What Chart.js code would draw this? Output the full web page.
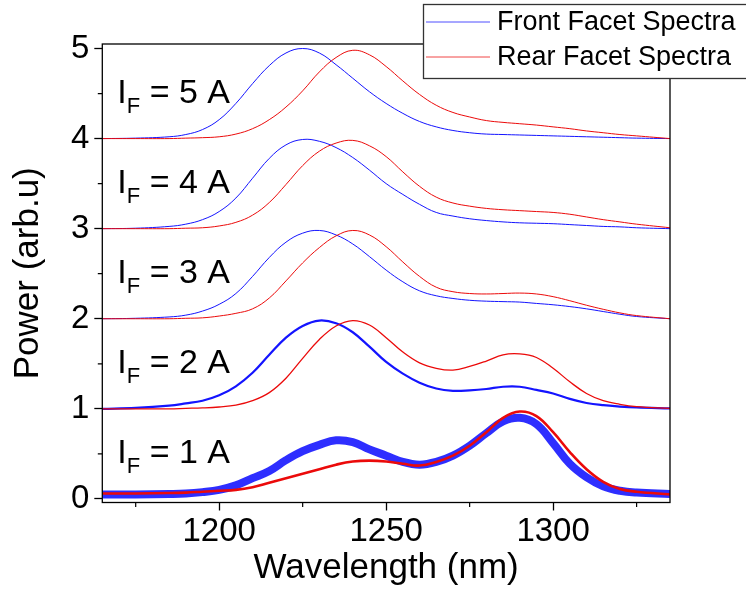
<!DOCTYPE html>
<html><head><meta charset="utf-8">
<script src="https://cdn.jsdelivr.net/npm/chart.js@4/dist/chart.umd.min.js"></script>
<style>html,body{margin:0;padding:0;background:#fff;}#wrap{width:746px;height:590px;}</style>
</head><body><div id="wrap"><canvas id="c" width="746" height="590"></canvas></div>
<script>
const wavelengths = [1165,1175,1185,1190,1195,1200,1205,1210,1215,1220,1225,1230,1235,1240,1245,1250,1255,1260,1265,1270,1275,1280,1285,1290,1295,1300,1305,1310,1315,1320,1325,1335];
const front1A = [0.05,0.05,0.055,0.06,0.075,0.10,0.15,0.23,0.31,0.43,0.53,0.60,0.65,0.63,0.55,0.48,0.41,0.38,0.41,0.48,0.59,0.73,0.86,0.90,0.83,0.62,0.39,0.24,0.14,0.09,0.07,0.055];
const rear1A  = [0.06,0.06,0.065,0.07,0.08,0.09,0.10,0.13,0.18,0.23,0.28,0.33,0.38,0.415,0.425,0.415,0.39,0.37,0.41,0.48,0.59,0.74,0.90,0.97,0.92,0.74,0.52,0.33,0.19,0.11,0.08,0.05];
const front2A = [1.00,1.01,1.035,1.06,1.09,1.15,1.25,1.40,1.60,1.79,1.92,1.98,1.95,1.85,1.69,1.52,1.39,1.29,1.225,1.20,1.205,1.22,1.245,1.245,1.21,1.17,1.11,1.065,1.04,1.025,1.015,1.005];
const rear2A  = [1.00,1.00,1.00,1.005,1.01,1.02,1.04,1.09,1.18,1.34,1.56,1.77,1.92,1.98,1.93,1.79,1.63,1.51,1.45,1.43,1.47,1.53,1.60,1.61,1.57,1.45,1.30,1.17,1.09,1.05,1.025,1.005];
const front3A = [2.00,2.005,2.02,2.04,2.085,2.16,2.28,2.47,2.68,2.85,2.95,2.98,2.93,2.83,2.69,2.54,2.41,2.31,2.255,2.225,2.205,2.195,2.19,2.185,2.17,2.155,2.135,2.11,2.08,2.05,2.025,2.00];
const rear3A  = [2.00,2.00,2.00,2.005,2.01,2.03,2.06,2.11,2.23,2.42,2.62,2.79,2.92,2.98,2.93,2.80,2.63,2.47,2.35,2.30,2.28,2.275,2.28,2.285,2.275,2.245,2.20,2.15,2.105,2.065,2.035,2.00];
const front4A = [3.00,3.005,3.025,3.05,3.10,3.19,3.34,3.56,3.78,3.93,3.99,3.97,3.90,3.79,3.65,3.50,3.38,3.27,3.18,3.14,3.11,3.09,3.075,3.065,3.06,3.055,3.045,3.035,3.025,3.02,3.01,3.00];
const rear4A  = [3.00,3.00,3.00,3.005,3.01,3.03,3.07,3.15,3.29,3.49,3.70,3.86,3.95,3.98,3.92,3.80,3.63,3.47,3.35,3.285,3.25,3.225,3.21,3.20,3.19,3.18,3.16,3.13,3.10,3.075,3.05,3.01];
const front5A = [4.00,4.005,4.02,4.045,4.10,4.21,4.39,4.61,4.81,4.95,5.00,4.95,4.82,4.67,4.52,4.39,4.28,4.19,4.13,4.09,4.065,4.05,4.045,4.04,4.035,4.03,4.025,4.02,4.015,4.01,4.005,4.00];
const rear5A  = [4.00,4.00,4.00,4.005,4.01,4.02,4.05,4.11,4.21,4.35,4.53,4.74,4.90,4.98,4.93,4.80,4.64,4.49,4.37,4.29,4.24,4.20,4.18,4.165,4.15,4.13,4.11,4.085,4.065,4.045,4.03,4.00];
const currents = ['1','2','3','4','5'];
const seriesNames = ['Front Facet Spectra','Rear Facet Spectra'];
const xTicks = [1200,1250,1300];
const xMinorTicks = [1175,1225,1275,1325];
const yTicks = [0,1,2,3,4,5];
const yMinorTicks = [0.5,1.5,2.5,3.5,4.5];
const labelX = 1169.5;
const labelY = [0.4,1.4,2.4,3.4,4.4];

const FONT = "'Liberation Sans', Arial, sans-serif";
const BLUE = 'rgb(20,20,255)';
const RED = 'rgb(235,10,10)';
const frontSeries = [front1A, front2A, front3A, front4A, front5A];
const rearSeries = [rear1A, rear2A, rear3A, rear4A, rear5A];
const frontWidths = [8, 2.2, 1, 1, 1];
const frontColors = ['rgba(0,0,255,0.82)', BLUE, BLUE, BLUE, BLUE];
const rearWidths = [2.6, 1.3, 1, 1, 1];

const datasets = [];
frontSeries.forEach((s, i) => {
  datasets.push({label: seriesNames[0], data: wavelengths.map((x, j) => ({x, y: s[j]})),
    borderColor: frontColors[i], borderWidth: frontWidths[i], pointRadius: 0, tension: 0.4, order: 2});
});
rearSeries.forEach((s, i) => {
  datasets.push({label: seriesNames[1], data: wavelengths.map((x, j) => ({x, y: s[j]})),
    borderColor: RED, borderWidth: rearWidths[i], pointRadius: 0, tension: 0.4, order: 1});
});

const decor = {
  id: 'decor',
  afterDraw(chart) {
    const {ctx, chartArea: a, scales: {x, y}} = chart;
    ctx.save();
    ctx.strokeStyle = '#000';
    ctx.lineWidth = 1.3;
    ctx.strokeRect(a.left, a.top, a.right - a.left, a.bottom - a.top);
    ctx.lineWidth = 1.2;
    ctx.beginPath();
    xMinorTicks.forEach(v => { const px = x.getPixelForValue(v); ctx.moveTo(px, a.bottom); ctx.lineTo(px, a.bottom + 4.5); });
    yMinorTicks.forEach(v => { const py = y.getPixelForValue(v); ctx.moveTo(a.left, py); ctx.lineTo(a.left - 4.5, py); });
    ctx.stroke();
    ctx.fillStyle = '#000';
    ctx.textAlign = 'left';
    ctx.textBaseline = 'alphabetic';
    currents.forEach((c, i) => {
      const px = x.getPixelForValue(labelX), py = y.getPixelForValue(labelY[i]);
      ctx.font = '34px ' + FONT;
      ctx.fillText('I', px, py);
      const w1 = ctx.measureText('I').width;
      ctx.font = '22px ' + FONT;
      ctx.fillText('F', px + w1, py + 10);
      const w2 = ctx.measureText('F').width;
      ctx.font = '34px ' + FONT;
      ctx.fillText(' = ' + c + ' A', px + w1 + w2, py);
    });
    ctx.fillStyle = '#fff';
    ctx.fillRect(423, 4, 340, 75);
    ctx.strokeStyle = '#333';
    ctx.lineWidth = 1.3;
    ctx.strokeRect(423.5, 4.5, 340, 74);
    const rows = [[BLUE, 22], [RED, 57]];
    rows.forEach((r, i) => {
      ctx.strokeStyle = r[0];
      ctx.globalAlpha = 0.75;
      ctx.lineWidth = 1;
      ctx.beginPath(); ctx.moveTo(426, r[1]); ctx.lineTo(490, r[1]); ctx.stroke();
      ctx.globalAlpha = 1;
      ctx.fillStyle = '#000';
      ctx.font = '27px ' + FONT;
      ctx.textBaseline = 'middle';
      ctx.fillText(seriesNames[i], 497, r[1] + 1);
    });
    ctx.restore();
  }
};

new Chart(document.getElementById('c'), {
  type: 'line',
  data: {datasets},
  options: {
    responsive: false,
    animation: false,
    layout: {padding: {left: 0, right: 76, top: 44, bottom: 0}},
    plugins: {legend: {display: false}, tooltip: {enabled: false}},
    scales: {
      x: {
        type: 'linear', min: 1165, max: 1335,
        afterBuildTicks: s => { s.ticks = xTicks.map(v => ({value: v})); },
        afterFit: s => { s.height = 87.5; },
        ticks: {font: {family: FONT, size: 33}, color: '#000', padding: 2, maxRotation: 0, autoSkip: false,
          callback: v => String(v)},
        grid: {drawOnChartArea: false, drawTicks: true, tickLength: 8, tickColor: '#000', tickWidth: 1.3},
        border: {display: false},
        title: {display: true, text: 'Wavelength (nm)', font: {family: FONT, size: 35}, color: '#000', padding: {top: 0, bottom: 1}}
      },
      y: {
        type: 'linear', min: -0.04, max: 5.05,
        afterBuildTicks: s => { s.ticks = yTicks.map(v => ({value: v})); },
        afterFit: s => { s.width = 102.3; },
        ticks: {font: {family: FONT, size: 33}, color: '#000', padding: 5, callback: v => String(v)},
        grid: {drawOnChartArea: false, drawTicks: true, tickLength: 8, tickColor: '#000', tickWidth: 1.3},
        border: {display: false},
        title: {display: true, text: 'Power (arb.u)', font: {family: FONT, size: 35}, color: '#000', padding: {top: 7, bottom: 0}}
      }
    }
  },
  plugins: [decor]
});
</script></body></html>
